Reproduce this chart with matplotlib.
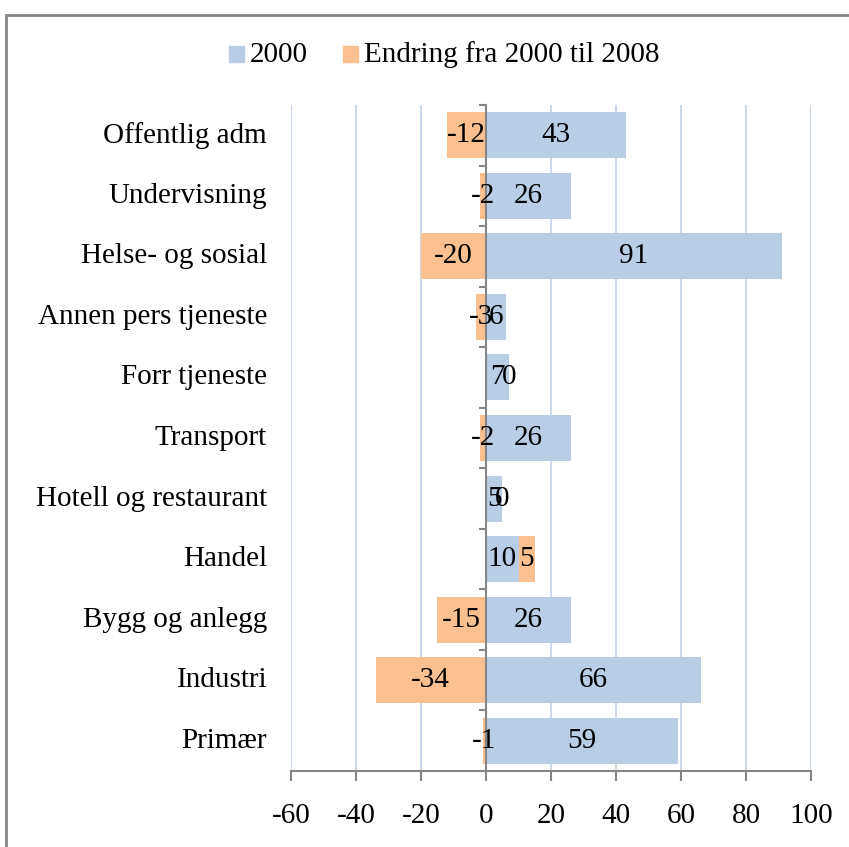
import matplotlib.pyplot as plt
from matplotlib.patches import Rectangle
from matplotlib.transforms import blended_transform_factory

plt.rcParams['font.family'] = ['Liberation Serif', 'DejaVu Serif']
plt.rcParams['axes.unicode_minus'] = False

categories = ["Primær", "Industri", "Bygg og anlegg", "Handel", "Hotell og restaurant",
              "Transport", "Forr tjeneste", "Annen pers tjeneste", "Helse- og sosial",
              "Undervisning", "Offentlig adm"]
v2000 = [59, 66, 26, 10, 5, 26, 7, 6, 91, 26, 43]
change = [-1, -34, -15, 5, 0, -2, 0, -3, -20, -2, -12]

blue = "#B9CDE5"
orange = "#FAC090"
fs = 21

fig = plt.figure(figsize=(8.49, 8.47), dpi=100)
ax = fig.add_axes([291/849, 1 - 771/847, 520/849, 666/847])

y = list(range(len(categories)))
ax.barh(y, v2000, height=0.76, color=blue, zorder=2)
lefts = [v if c >= 0 else 0 for v, c in zip(v2000, change)]
ax.barh(y, change, left=lefts, height=0.76, color=orange, zorder=2)

for i in y:
    ax.text(v2000[i] / 2, i, str(v2000[i]), ha='center', va='center', fontsize=fs, zorder=4)
    ax.text(lefts[i] + change[i] / 2, i, str(change[i]), ha='center', va='center', fontsize=fs, zorder=4)

ax.set_xlim(-60, 100)
ax.set_ylim(-0.5, len(categories) - 0.5)
ax.set_xticks(range(-60, 101, 20))
ax.xaxis.grid(True, color="#C6D5E8", linewidth=1.3, zorder=0)
ax.set_axisbelow(True)

for s in ['top', 'right']:
    ax.spines[s].set_visible(False)
ax.spines['left'].set_position(('data', 0))
ax.spines['left'].set_color("#868686")
ax.spines['left'].set_linewidth(1.5)
ax.spines['left'].set_zorder(3)
ax.spines['bottom'].set_color("#868686")
ax.spines['bottom'].set_linewidth(1.5)

ax.set_yticks(y)
ax.set_yticklabels([])
ax.tick_params(axis='y', which='major', length=0)
ax.set_yticks([i - 0.5 for i in range(len(categories) + 1)], minor=True)
ax.tick_params(axis='y', which='minor', length=5, width=1.5, color="#868686")
ax.tick_params(axis='x', length=7, width=1.5, color="#868686", labelsize=fs, pad=16)

tr = blended_transform_factory(ax.transAxes, ax.transData)
for i, name in enumerate(categories):
    ax.text(-0.046, i, name, transform=tr, ha='right', va='center', fontsize=fs)

# legend
fig.patches.append(Rectangle((229/849, 1 - 62/847), 15/849, 16/847, transform=fig.transFigure,
                             color=blue))
fig.text(250/849, 1 - 55/847, "2000", fontsize=fs, va='center')
fig.patches.append(Rectangle((343/849, 1 - 62/847), 15/849, 16/847, transform=fig.transFigure,
                             color=orange))
fig.text(364/849, 1 - 55/847, "Endring fra 2000 til 2008", fontsize=fs, va='center')

# chart border
fig.patches.append(Rectangle((6/849, -0.05), 1.0, 1 - 15/847 + 0.05, transform=fig.transFigure,
                             fill=False, edgecolor="#868686", linewidth=2))

fig.savefig("out.png", dpi=100)
